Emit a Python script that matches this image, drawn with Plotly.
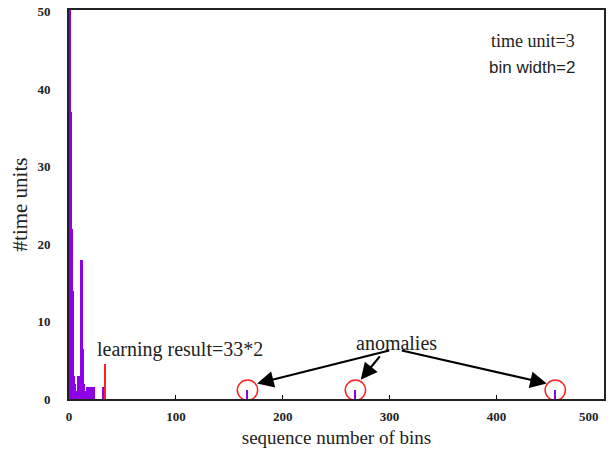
import plotly.graph_objects as go

# Data: bin sequence number vs number of time units
bin_seq = list(range(0, 33))
time_units = [55, 52, 37, 22, 14, 3, 2, 1, 3, 1, 3, 18, 18, 6.5, 2, 1,
              0, 1.5, 1.5, 0, 1.5, 1.5, 1.5, 1.5, 0, 0, 0, 0, 0, 0, 0, 0, 1.5]
anomaly_seq = [167, 268, 455]
anomaly_units = [1.1, 1.1, 1.1]
learning_seq = [34]
learning_units = [4.5]

x_ticks = [0, 100, 200, 300, 400]
x_last_tick = 500
y_ticks = [0, 10, 20, 30, 40, 50]

serif = "Liberation Serif, Times New Roman, serif"
violet = "#8E00E6"

fig = go.Figure()
fig.add_trace(go.Bar(x=bin_seq, y=time_units, width=1.0,
                     marker=dict(color=violet, line=dict(width=0))))
fig.add_trace(go.Bar(x=anomaly_seq, y=anomaly_units, width=1.4,
                     marker=dict(color=violet, line=dict(width=0))))
fig.add_trace(go.Bar(x=learning_seq, y=learning_units, width=1.0,
                     marker=dict(color="#FF2020", line=dict(width=0))))

# circles around anomalies
for cx in anomaly_seq:
    fig.add_shape(type="circle", xref="x", yref="y",
                  x0=cx - 9.5, x1=cx + 9.5, y0=1.15 - 1.3, y1=1.15 + 1.3,
                  line=dict(color="#FF2020", width=1.5))

# arrows from "anomalies" label
arrows = [((176, 2.0), (301, 6.3)), ((273, 2.5), (292, 5.7)), ((447, 2.0), (310, 6.3))]
for (hx, hy), (tx, ty) in arrows:
    fig.add_annotation(x=hx, y=hy, ax=tx, ay=ty, xref="x", yref="y",
                       axref="x", ayref="y", text="", showarrow=True,
                       arrowhead=2, arrowsize=1.5, arrowwidth=2.2,
                       arrowcolor="black")

fig.add_annotation(x=306, y=7.2, xref="x", yref="y", text="anomalies",
                   showarrow=False, font=dict(family=serif, size=20, color="#222"))
fig.add_annotation(x=104, y=6.4, xref="x", yref="y", text="learning result=33*2",
                   showarrow=False, font=dict(family=serif, size=20, color="#222"))
fig.add_annotation(x=0.868, y=0.921, xref="paper", yref="paper", text="time unit=3",
                   xanchor="center", yanchor="middle",
                   showarrow=False, font=dict(family=serif, size=18, color="#222"))
fig.add_annotation(x=0.866, y=0.852, xref="paper", yref="paper", text="bin width=2",
                   xanchor="center", yanchor="middle",
                   showarrow=False, font=dict(family="Liberation Sans, Arial, sans-serif", size=17, color="#222"))
# last x tick label (drawn shifted inward as in the reference)
fig.add_annotation(x=x_last_tick, y=0, xref="x", yref="paper", text=str(x_last_tick),
                   xanchor="center", yanchor="top", xshift=-14, yshift=-8,
                   showarrow=False, font=dict(family=serif, size=13, color="#222", weight="bold"))

fig.update_layout(
    width=610, height=449,
    margin=dict(l=69, r=4, t=9, b=47),
    plot_bgcolor="white", paper_bgcolor="white",
    showlegend=False, bargap=0,
    xaxis=dict(range=[-0.01, 500.6], tickvals=x_ticks, ticks="inside", ticklen=4,
               tickcolor="black", showline=True, linecolor="#222", linewidth=2,
               mirror=True, showgrid=False, zeroline=False, ticklabelstandoff=4,
               tickfont=dict(family=serif, size=13, color="#222", weight="bold"),
               title=dict(text="sequence number of bins", standoff=8,
                          font=dict(family=serif, size=19, color="#222"))),
    yaxis=dict(range=[0, 50.2], tickvals=y_ticks, ticks="", showline=True,
               linecolor="#222", linewidth=2, mirror=True, showgrid=False,
               zeroline=False, ticklabelstandoff=14,
               tickfont=dict(family=serif, size=13, color="#222", weight="bold"),
               title=dict(text="#time units", standoff=4,
                          font=dict(family=serif, size=21, color="#222"))),
)

fig.write_html("out.html")
